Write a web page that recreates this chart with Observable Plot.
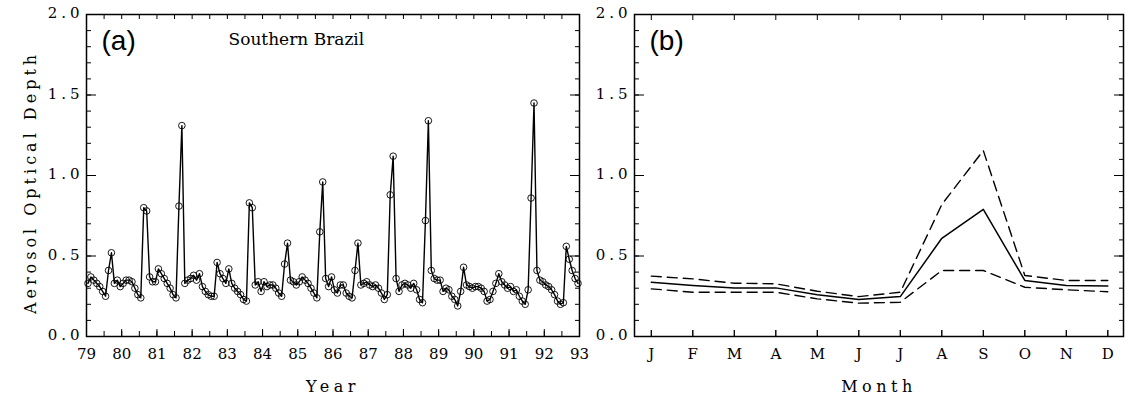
<!DOCTYPE html>
<html><head><meta charset="utf-8">
<script src="https://cdn.jsdelivr.net/npm/d3@7"></script>
<script src="https://cdn.jsdelivr.net/npm/@observablehq/plot@0.6"></script>
<style>
html,body{margin:0;padding:0;background:#fff;}
#wrap{position:relative;width:1125px;height:398px;overflow:hidden;background:#fff;}
#wrap svg{position:absolute;top:0;}
</style></head><body><div id="wrap"></div>
<script>
// ---------- data ----------
const years = [79,80,81,82,83,84,85,86,87,88,89,90,91,92];
const aod1979 = [0.33,0.37,0.35,0.33,0.31,0.28,0.25,0.41,0.52,0.33,0.35,0.31];
const aod1980 = [0.33,0.35,0.35,0.34,0.30,0.26,0.24,0.80,0.78,0.37,0.34,0.34];
const aod1981 = [0.42,0.39,0.36,0.33,0.30,0.26,0.24,0.81,1.31,0.33,0.35,0.36];
const aod1982 = [0.38,0.35,0.39,0.31,0.28,0.26,0.25,0.25,0.46,0.39,0.36,0.33];
const aod1983 = [0.42,0.33,0.30,0.28,0.26,0.23,0.22,0.83,0.80,0.32,0.34,0.28];
const aod1984 = [0.34,0.31,0.32,0.32,0.30,0.27,0.25,0.45,0.58,0.35,0.34,0.32];
const aod1985 = [0.34,0.37,0.35,0.33,0.30,0.27,0.24,0.65,0.96,0.36,0.31,0.37];
const aod1986 = [0.29,0.27,0.32,0.32,0.27,0.25,0.24,0.41,0.58,0.32,0.33,0.34];
const aod1987 = [0.32,0.31,0.32,0.30,0.27,0.23,0.26,0.88,1.12,0.36,0.28,0.32];
const aod1988 = [0.33,0.32,0.30,0.33,0.29,0.23,0.21,0.72,1.34,0.41,0.36,0.35];
const aod1989 = [0.35,0.28,0.30,0.29,0.25,0.23,0.19,0.28,0.43,0.32,0.31,0.30];
const aod1990 = [0.31,0.31,0.30,0.28,0.22,0.23,0.28,0.33,0.39,0.34,0.32,0.30];
const aod1991 = [0.31,0.28,0.29,0.25,0.22,0.20,0.29,0.86,1.45,0.41,0.35,0.34];
const aod1992 = [0.32,0.31,0.29,0.26,0.22,0.20,0.21,0.56,0.48,0.41,0.36,0.33];

const monthLabels = ["J","F","M","A","M","J","J","A","S","O","N","D"];
const meanAOD  = [0.337,0.317,0.302,0.302,0.260,0.230,0.248,0.610,0.790,0.348,0.317,0.313];
const upperAOD = [0.375,0.358,0.331,0.327,0.281,0.248,0.275,0.820,1.155,0.379,0.348,0.348];
const lowerAOD = [0.296,0.275,0.275,0.275,0.234,0.207,0.213,0.410,0.410,0.306,0.290,0.278];

const yTickValues = [0, 0.5, 1.0, 1.5, 2.0];
const yearTickValues = [79,80,81,82,83,84,85,86,87,88,89,90,91,92,93];
const monthTickValues = [1,2,3,4,5,6,7,8,9,10,11,12];

// ---------- tables ----------
const byYear = [aod1979,aod1980,aod1981,aod1982,aod1983,aod1984,aod1985,aod1986,aod1987,aod1988,aod1989,aod1990,aod1991,aod1992];
const series = years.flatMap((yr, i) => byYear[i].map((v, m) => ({t: yr + (m + 0.5) / 12, v})));
const clim = monthTickValues.map((m, i) => ({m, mean: meanAOD[i], up: upperAOD[i], lo: lowerAOD[i]}));
const yMinor = d3.range(0, 21).map(i => i / 10);
const halfYears = d3.range(0, 29).map(i => 79 + i / 2);

const H = 398, mT = 14, mB = 62;
const fh = H - mT - mB;
const serif = "DejaVu Serif";
const sans = "Liberation Sans";
const baseStyle = {fontFamily: serif, fontSize: "15px", color: "black", background: "transparent", overflow: "visible"};

function frameTicks(fw, xMajor, xMinor, majB, minB, minT) {
  return [
    Plot.tickY(yMinor, {y: d => d, insetRight: fw - 5, stroke: "black", strokeWidth: 1}),
    Plot.tickY(yTickValues, {y: d => d, insetRight: fw - 10, stroke: "black", strokeWidth: 1}),
    Plot.tickY(yMinor, {y: d => d, insetLeft: fw - 4, stroke: "black", strokeWidth: 1}),
    Plot.tickY(yTickValues, {y: d => d, insetLeft: fw - 9, stroke: "black", strokeWidth: 1}),
    Plot.tickX(xMajor, {x: d => d, insetTop: fh - majB, stroke: "black", strokeWidth: 1}),
    Plot.tickX(xMinor, {x: d => d, insetTop: fh - minB, stroke: "black", strokeWidth: 1}),
    Plot.tickX(xMinor, {x: d => d, insetBottom: fh - minT, stroke: "black", strokeWidth: 1})
  ];
}

// ---------- panel (a) ----------
const W1 = 600, mL1 = 86, mR1 = 21, fw1 = W1 - mL1 - mR1;
const pa = Plot.plot({
  width: W1, height: H, marginLeft: mL1, marginRight: mR1, marginTop: mT, marginBottom: mB,
  style: baseStyle,
  x: {domain: [79, 93]},
  y: {domain: [0, 2]},
  marks: [
    Plot.axisX(yearTickValues, {anchor: "bottom", tickSize: 0, tickPadding: 12, tickFormat: d => String(d), label: null, fontFamily: serif, fontSize: 15}),
    Plot.axisY(yTickValues, {anchor: "left", tickSize: 0, tickPadding: 3, tickFormat: d3.format(".1f"), label: null, fontFamily: serif, fontSize: 15, dy: -1}),
    ...frameTicks(fw1, yearTickValues, halfYears, 7, 5, 5),
    Plot.line(series, {x: "t", y: "v", stroke: "black", strokeWidth: 1.4}),
    Plot.dot(series, {x: "t", y: "v", r: 3.3, stroke: "black", strokeWidth: 0.9, fill: "none"}),
    Plot.frame({stroke: "black", strokeWidth: 1.5}),
    Plot.text(["(a)"], {frameAnchor: "top-left", dx: 15, dy: 35, textAnchor: "start", lineAnchor: "bottom", fontFamily: sans, fontSize: 28}),
    Plot.text(["Southern Brazil"], {frameAnchor: "top-left", dx: 142, dy: 30, textAnchor: "start", lineAnchor: "bottom", fontFamily: serif, fontSize: 17}),
    Plot.text(["Aerosol Optical Depth"], {frameAnchor: "left", dx: -56, dy: 7, rotate: -90, textAnchor: "middle", lineAnchor: "middle", fontFamily: serif, fontSize: 16}),
    Plot.text(["Year"], {frameAnchor: "bottom", dy: 55, textAnchor: "middle", lineAnchor: "bottom", fontFamily: serif, fontSize: 16})
  ]
});

// ---------- panel (b) ----------
const W2 = 525, mL2 = 34, mR2 = 2, fw2 = W2 - mL2 - mR2;
const pb = Plot.plot({
  width: W2, height: H, marginLeft: mL2, marginRight: mR2, marginTop: mT, marginBottom: mB,
  style: baseStyle,
  x: {domain: [0.595, 12.378]},
  y: {domain: [0, 2]},
  marks: [
    Plot.axisX(monthTickValues, {anchor: "bottom", tickSize: 0, tickPadding: 12, tickFormat: d => monthLabels[d - 1], label: null, fontFamily: serif, fontSize: 15}),
    Plot.axisY(yTickValues, {anchor: "left", tickSize: 0, tickPadding: 3, tickFormat: d3.format(".1f"), label: null, fontFamily: serif, fontSize: 15, dy: -1}),
    ...frameTicks(fw2, monthTickValues, monthTickValues, 6, 6, 6),
    Plot.line(clim, {x: "m", y: "up", stroke: "black", strokeWidth: 1.4, strokeDasharray: "10,6"}),
    Plot.line(clim, {x: "m", y: "lo", stroke: "black", strokeWidth: 1.4, strokeDasharray: "10,6"}),
    Plot.line(clim, {x: "m", y: "mean", stroke: "black", strokeWidth: 1.5}),
    Plot.frame({stroke: "black", strokeWidth: 1.5}),
    Plot.text(["(b)"], {frameAnchor: "top-left", dx: 15, dy: 35, textAnchor: "start", lineAnchor: "bottom", fontFamily: sans, fontSize: 28}),
    Plot.text(["Month"], {frameAnchor: "bottom", dy: 55, textAnchor: "middle", lineAnchor: "bottom", fontFamily: serif, fontSize: 16})
  ]
});

const wrap = document.getElementById("wrap");
pa.style.left = "0px";
pb.style.left = "600px";
wrap.appendChild(pa);
wrap.appendChild(pb);

// letter spacing like the original typesetting
for (const svg of [pa, pb]) {
  svg.querySelectorAll('g[aria-label="y-axis tick label"] text').forEach(t => t.style.letterSpacing = "4px");
  svg.querySelectorAll('text').forEach(t => {
    const s = t.textContent;
    if (s === "Aerosol Optical Depth") t.style.letterSpacing = "4px";
    if (s === "Year" || s === "Month") t.style.letterSpacing = "4.5px";
  });
}
</script></body></html>
